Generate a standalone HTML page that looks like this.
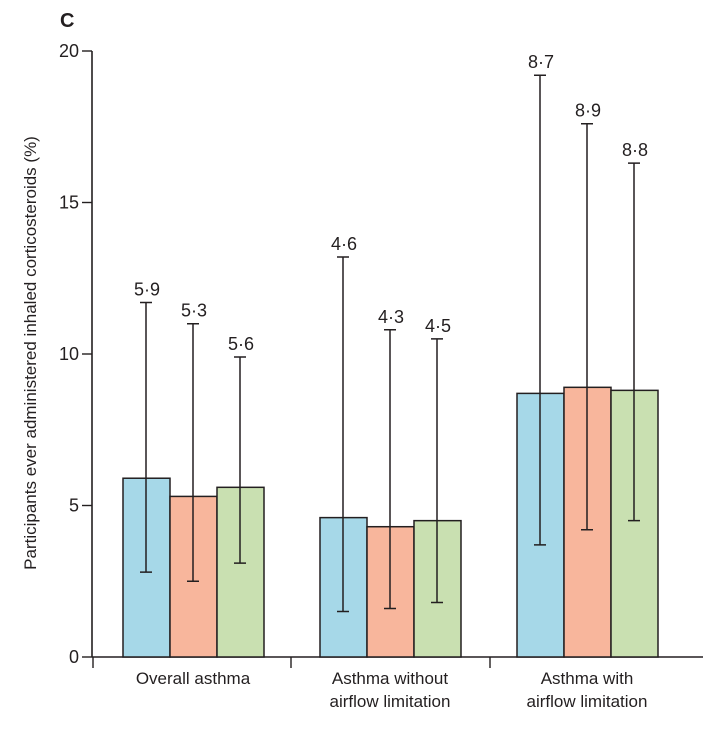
<!DOCTYPE html>
<html><head><meta charset="utf-8"><style>
body{margin:0;background:#fff}
svg text{font-family:"Liberation Sans",sans-serif;fill:#231f20}
</style></head><body>
<svg width="703" height="727" viewBox="0 0 703 727">
<text x="60" y="27" font-size="20" font-weight="bold">C</text>
<text transform="translate(36,353) rotate(-90)" text-anchor="middle" font-size="17">Participants ever administered inhaled corticosteroids (%)</text>
<g id="axes"></g>
<g id="bars"></g>
</svg>
<script>
const categories=[["Overall asthma"],["Asthma without","airflow limitation"],["Asthma with","airflow limitation"]];
const seriesA=[5.9,4.6,8.7];
const seriesB=[5.3,4.3,8.9];
const seriesC=[5.6,4.5,8.8];
const lowA=[2.8,1.5,3.7], highA=[11.7,13.2,19.2];
const lowB=[2.5,1.6,4.2], highB=[11.0,10.8,17.6];
const lowC=[3.1,1.8,4.5], highC=[9.9,10.5,16.3];
const yTicks=[0,5,10,15,20];
const labelsA=["5·9","4·6","8·7"], labelsB=["5·3","4·3","8·9"], labelsC=["5·6","4·5","8·8"];

const NS="http://www.w3.org/2000/svg";
const y=v=>657-v*30.3;
const groupX=i=>123+i*197;
const BW=47;
function mk(tag,attrs,parent){const e=document.createElementNS(NS,tag);for(const k in attrs)e.setAttribute(k,attrs[k]);parent.appendChild(e);return e;}
const ax=document.getElementById('axes'), bg=document.getElementById('bars');
let e=mk('line',{x1:92,y1:y(20),x2:92,y2:657,stroke:'#231f20','stroke-width':1.6},ax);


e=mk('line',{x1:92,y1:657,x2:717,y2:657,stroke:'#231f20','stroke-width':1.6},ax);


yTicks.forEach(t=>{
  e=mk('line',{x1:82,y1:y(t),x2:92,y2:y(t),stroke:'#231f20','stroke-width':1.4},ax);
  
  
  e=mk('text',{x:79,y:y(t)+6,'text-anchor':'end','font-size':18},ax);
  e.textContent=t;
  
  
});
[93,291,490,717].forEach(x=>{
  e=mk('line',{x1:x,y1:657,x2:x,y2:668,stroke:'#231f20','stroke-width':1.4},ax);
  
  
});
categories.forEach((c,i)=>{
  c.forEach((ln,j)=>{
    e=mk('text',{x:groupX(i)+70,y:684+j*23,'text-anchor':'middle','font-size':17},ax);
    e.textContent=ln;
    
    
  });
});
const series=[[seriesA,lowA,highA,labelsA,'#a6d8e8'],[seriesB,lowB,highB,labelsB,'#f8b69c'],[seriesC,lowC,highC,labelsC,'#c9e0b1']];
series.forEach((s,k)=>{
  s[0].forEach((v,i)=>{
    const x=groupX(i)+k*BW;
    e=mk('rect',{x:x,y:y(v),width:BW,height:657-y(v),fill:s[4],stroke:'#231f20','stroke-width':1.5},bg);
    
    
    const cx=x+23;
    e=mk('path',{d:`M${cx},${y(s[1][i])}V${y(s[2][i])}M${cx-6},${y(s[1][i])}h12M${cx-6},${y(s[2][i])}h12`,stroke:'#231f20','stroke-width':1.5,fill:'none'},bg);
    
    
    e=mk('text',{x:cx+1,y:y(s[2][i])-7,'text-anchor':'middle','font-size':18},bg);
    e.textContent=s[3][i];
    
    
  });
});
</script>
</body></html>
